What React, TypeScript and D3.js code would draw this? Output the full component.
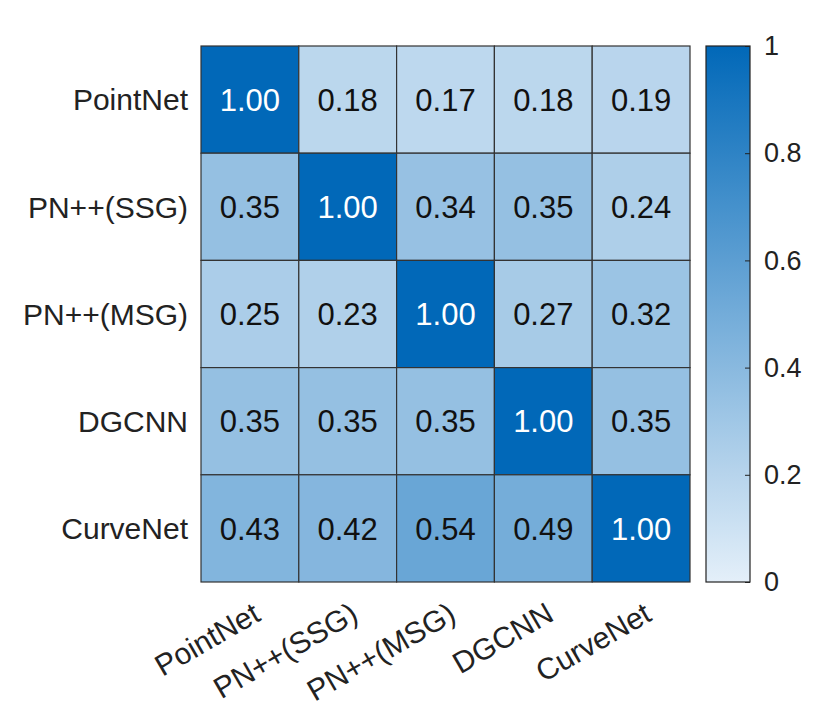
import { useEffect, useRef } from 'react'
import * as d3 from 'd3'

const models = ['PointNet', 'PN++(SSG)', 'PN++(MSG)', 'DGCNN', 'CurveNet']
const matrix = [
  [1.0, 0.18, 0.17, 0.18, 0.19],
  [0.35, 1.0, 0.34, 0.35, 0.24],
  [0.25, 0.23, 1.0, 0.27, 0.32],
  [0.35, 0.35, 0.35, 1.0, 0.35],
  [0.43, 0.42, 0.54, 0.49, 1.0],
]
const colorTicks = [0, 0.2, 0.4, 0.6, 0.8, 1]

export default function App() {
  const svgRef = useRef<SVGSVGElement>(null)
  const width = 830
  const height = 721

  useEffect(() => {
    if (!svgRef.current) return
    const svg = d3.select(svgRef.current)
    svg.selectAll('*').remove()

    const font = 'Liberation Sans, Arial, sans-serif'
    const left = 201, right = 690, top = 46, bottom = 582

    const x = d3.scaleBand().domain(models).range([left, right])
    const y = d3.scaleBand().domain(models).range([top, bottom])
    const color = d3.scaleLinear<string>()
      .domain([0, 1])
      .range(['#e4eff9', '#0168b8'])
      .interpolate(d3.interpolateRgb)

    const cells = matrix.flatMap((row, i) =>
      row.map((v, j) => ({ r: models[i], c: models[j], v })))

    const g = svg.append('g')
    g.selectAll('rect.cell')
      .data(cells)
      .enter().append('rect')
      .attr('class', 'cell')
      .attr('x', d => x(d.c)!)
      .attr('y', d => y(d.r)!)
      .attr('width', x.bandwidth())
      .attr('height', y.bandwidth())
      .attr('fill', d => color(d.v))
      .attr('stroke', '#333')
      .attr('stroke-width', 1.2)

    g.selectAll('text.val')
      .data(cells)
      .enter().append('text')
      .attr('class', 'val')
      .attr('x', d => x(d.c)! + x.bandwidth() / 2)
      .attr('y', d => y(d.r)! + y.bandwidth() / 2)
      .attr('dy', '0.36em')
      .attr('text-anchor', 'middle')
      .attr('font-family', font)
      .attr('font-size', 31)
      .attr('fill', d => d.v > 0.7 ? '#fff' : '#111')
      .text(d => d.v.toFixed(2))

    // row labels
    g.selectAll('text.ylab')
      .data(models)
      .enter().append('text')
      .attr('class', 'ylab')
      .attr('x', left - 13)
      .attr('y', d => y(d)! + y.bandwidth() / 2)
      .attr('dy', '0.36em')
      .attr('text-anchor', 'end')
      .attr('font-family', font)
      .attr('font-size', 30)
      .attr('fill', '#222')
      .text(d => d)

    // column labels, rotated
    g.selectAll('text.xlab')
      .data(models)
      .enter().append('text')
      .attr('class', 'xlab')
      .attr('transform', d => `translate(${x(d)! + x.bandwidth() / 2 + 1},${bottom + 18}) rotate(-30)`)
      .attr('dy', '0.75em')
      .attr('text-anchor', 'end')
      .attr('font-family', font)
      .attr('font-size', 30)
      .attr('fill', '#222')
      .text(d => d)

    // colorbar
    const cbX = 706, cbW = 44
    const cy = d3.scaleLinear().domain([0, 1]).range([bottom, top])
    const defs = svg.append('defs')
    const grad = defs.append('linearGradient')
      .attr('id', 'cbgrad')
      .attr('x1', 0).attr('y1', 1).attr('x2', 0).attr('y2', 0)
    d3.range(0, 1.01, 0.1).forEach(t => {
      grad.append('stop').attr('offset', t).attr('stop-color', color(t))
    })
    svg.append('rect')
      .attr('x', cbX)
      .attr('y', top)
      .attr('width', cbW)
      .attr('height', bottom - top)
      .attr('fill', 'url(#cbgrad)')
      .attr('stroke', '#222')
      .attr('stroke-width', 1.2)

    const axis = d3.axisRight(cy)
      .tickValues(colorTicks)
      .tickSize(-5)
      .tickPadding(14)
      .tickFormat(d => d3.format('~g')(d as number))
    const ag = svg.append('g')
      .attr('transform', `translate(${cbX + cbW},0)`)
      .call(axis)
    ag.select('.domain').remove()
    ag.selectAll('line').attr('stroke', '#222')
    ag.selectAll('text')
      .attr('font-family', font)
      .attr('font-size', 27)
      .attr('fill', '#222')
  }, [])

  return (
    <svg ref={svgRef} width={width} height={height}
      style={{ display: 'block', margin: -8, background: '#fff' }} />
  )
}
